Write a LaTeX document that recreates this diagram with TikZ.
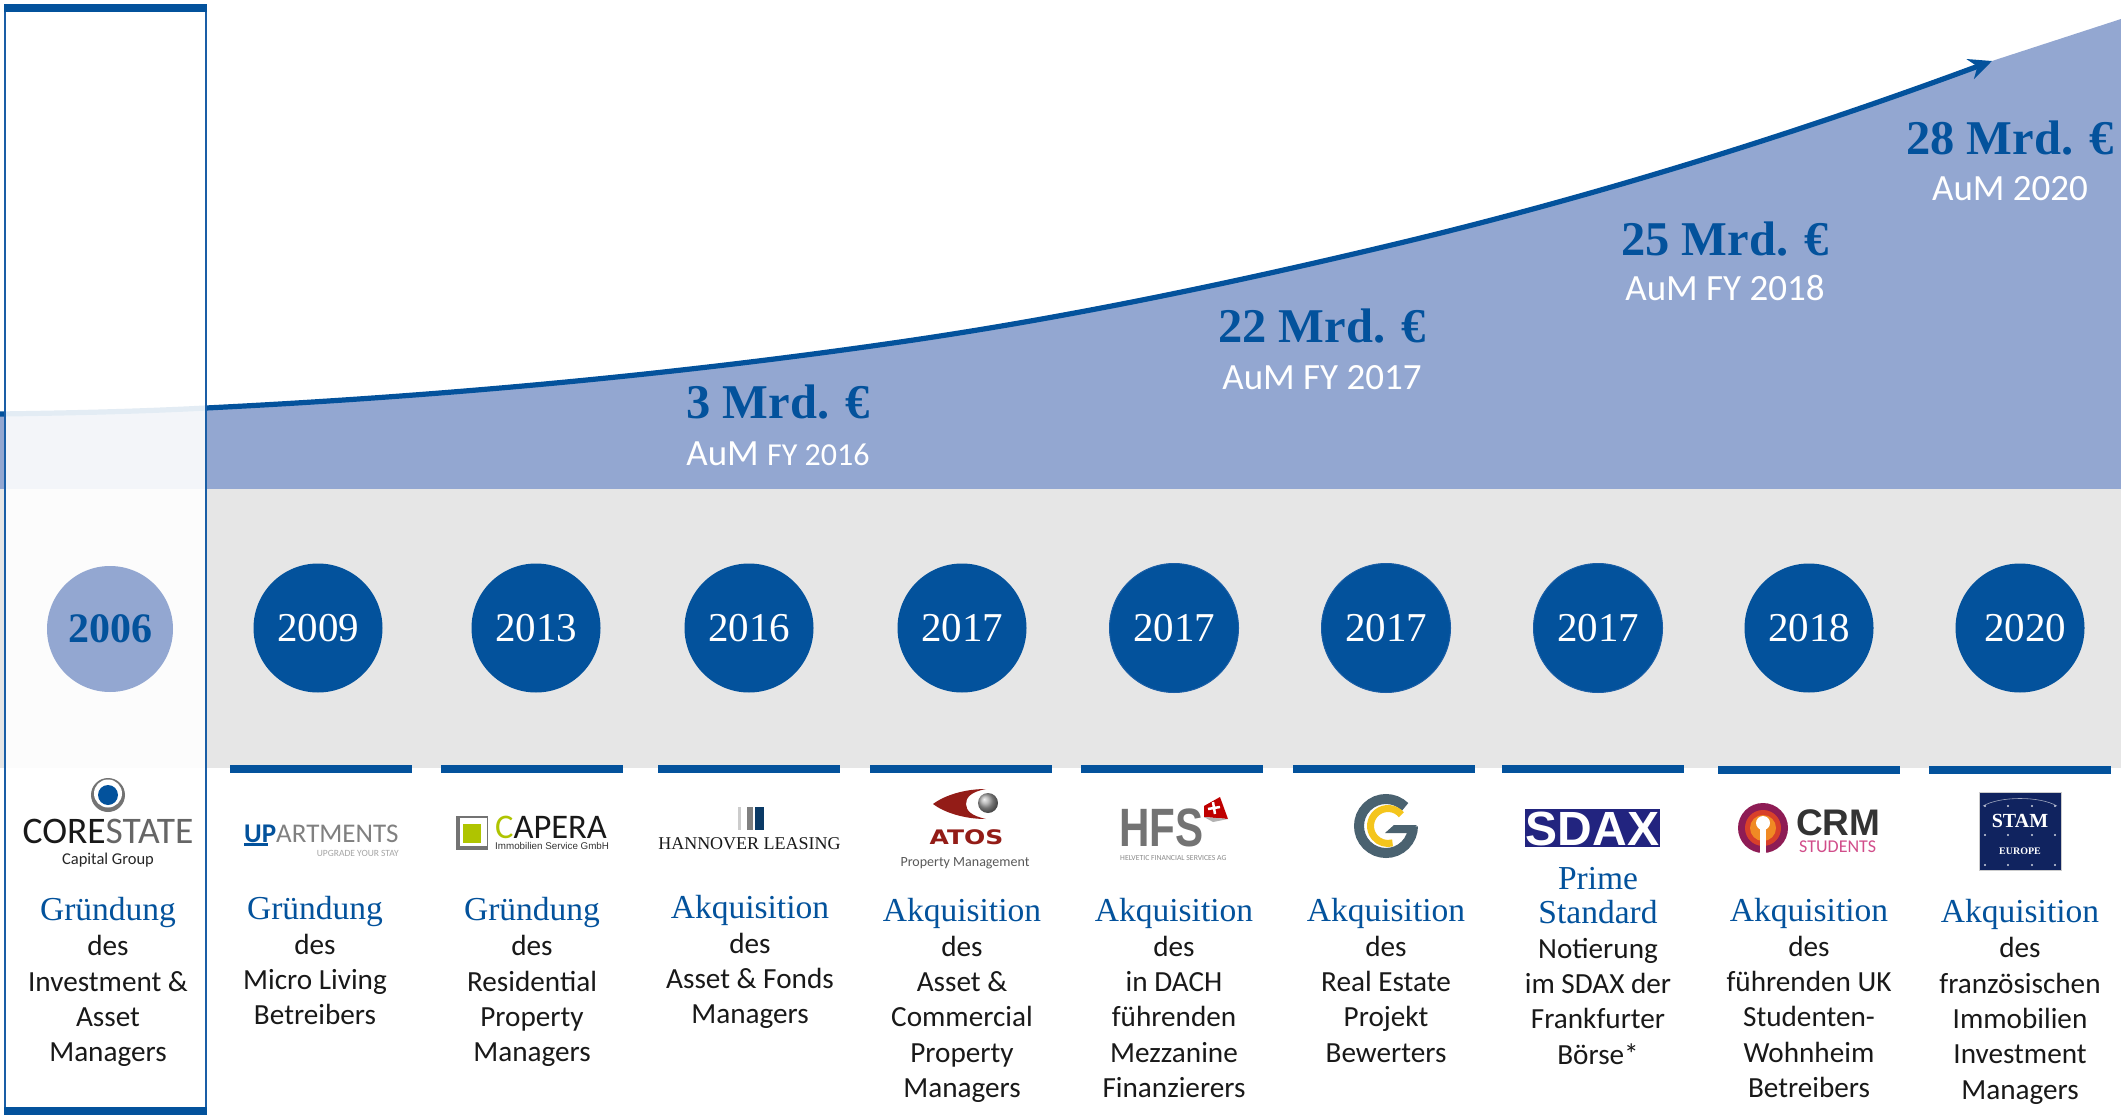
\documentclass[tikz,border=0pt]{standalone}
\usepackage{fontspec}
\usetikzlibrary{arrows.meta,calc}
\setmainfont{Carlito}
\newfontfamily\camf{Liberation Serif}
\newfontfamily\arif{Liberation Sans}
\newfontfamily\dejf{DejaVu Sans}
\newcommand\fsz[1]{\fontsize{#1}{#1}\selectfont}
\definecolor{mainblue}{HTML}{03529C}
\definecolor{areablue}{HTML}{93A7D1}
\definecolor{bandgrey}{HTML}{E6E6E6}
\definecolor{framelne}{HTML}{1A5EA6}
\definecolor{gslate}{HTML}{4A6270}
\definecolor{gyellow}{HTML}{F4C51C}
\definecolor{atosred}{HTML}{931C17}
\definecolor{limeg}{HTML}{AFC400}
\definecolor{sdaxb}{HTML}{22247F}
\definecolor{stamb}{HTML}{10235F}
\definecolor{hannavy}{HTML}{0B3A66}
\definecolor{crmo}{HTML}{8E1C55}
\definecolor{crmr}{HTML}{D8402A}
\definecolor{crmy}{HTML}{F08A24}
\definecolor{crmp}{HTML}{D14D8A}
\tikzset{
  yearc/.style={circle,fill=mainblue,draw=none,minimum size=129pt,inner sep=0,text=white,font=\camf\fsz{41}},
  yeard/.style={yearc,draw=#1,line width=1pt},
  amount/.style={anchor=base,inner sep=0,text=mainblue,font=\camf\bfseries\fsz{48.5}},
  aum/.style={anchor=base,inner sep=0,text=white,font=\fsz{37}},
  hdg/.style={anchor=base,inner sep=0,text=mainblue,font=\camf\fsz{33.5}},
  bdy/.style={anchor=base,inner sep=0,text=black!90,font=\fsz{29.2}},
  topbar/.style={fill=mainblue,draw=none},
  lg/.style={anchor=base,inner sep=0},
  lgw/.style={anchor=base west,inner sep=0},
  growth/.style={mainblue,line width=#1},
}
\newcommand\colm[5]{%
  \node[hdg] (h#1) at (#2,#3) {#4};
  \foreach \lbl [count=\i] in {#5} {\node[bdy] (b#1-\i) at (#2,#3+\i*35.3) {\lbl};}
}
\begin{document}
\begin{tikzpicture}[x=1pt,y=-1pt]
\useasboundingbox (0,0) rectangle (2121,1115);
\fill[white] (0,0) rectangle (2121,1115);
% area and band
\coordinate (tip) at (1992,61);
\fill[areablue] (0,414) .. controls (70,413) and (140,411.5) .. (206,408)
  .. controls (437,396.5) and (669,375.5) .. (900,342)
  .. controls (1067,317.8) and (1233,283) .. (1400,243)
  .. controls (1597,195.7) and (1795,134) .. (tip)
  -- (2121,19) -- (2121,489) -- (0,489) -- cycle;
\fill[bandgrey] (0,489) rectangle (2121,768);
% growth line
\draw[growth=5.2pt,-{Stealth[length=23pt,width=21pt]}] (0,414) .. controls (70,413) and (140,411.5) .. (206,408)
  .. controls (437,396.5) and (669,375.5) .. (900,342)
  .. controls (1067,317.8) and (1233,283) .. (1400,243)
  .. controls (1597,195.7) and (1795,134) .. (tip);
% bars
\foreach \a/\b/\t in {230/412/765,441/623/765,658/840/765,870/1052/765,1081/1263/765,1293/1475/765,1502/1684/765,1718/1900/766,1929/2111/766}
  \fill[topbar] (\a,\t) rectangle (\b,\t+8);
% highlight frame
\fill[white,opacity=.89] (5,8) rectangle (206,1110);
\draw[framelne,line width=2pt] (5,8) -- (5,1110);
\draw[framelne,line width=2pt] (206,8) -- (206,1110);
\fill[topbar] (4,4) rectangle (207,12);
\fill[topbar] (4,1107) rectangle (207,1115);
% amounts
\node[amount] (m3) at (778,418) {3 Mrd. €};
\node[aum] (a3) at (778,465) {AuM {\fsz{32}FY 2016}};
\node[amount] (m22) at (1322,342) {22 Mrd. €};
\node[aum] (a22) at (1322,389) {AuM FY 2017};
\node[amount] (m25) at (1725,255.5) {25 Mrd. €};
\node[aum] (a25) at (1725,301) {AuM FY 2018};
\node[amount] (m28) at (2010,154.5) {28 Mrd. €};
\node[aum] (a28) at (2010,201) {AuM 2020};
% years
\node[yearc,fill=areablue,text=mainblue,minimum size=126pt,font=\camf\bfseries\fsz{42}] (y06) at (110,629) {2006};
\node[yearc] (y09) at (318,628) {2009};
\node[yearc] (y13) at (536,628) {2013};
\node[yearc] (y16) at (749,628) {2016};
\node[yearc] (y17a) at (962,628) {2017};
\node[yeard=framelne] (y17b) at (1174,628) {2017};
\node[yeard=framelne] (y17c) at (1386,628) {2017};
\node[yeard=framelne] (y17d) at (1598,628) {2017};
\node[yearc] (y18) at (1809,628) {2018};
\node[yearc] (y20) at (2020,628) {\hspace{10pt}2020};
% columns
\colm{1}{108}{920.5}{Gründung}{des,Investment \&,Asset,Managers}
\colm{2}{315}{919}{Gründung}{des,Micro Living,Betreibers}
\colm{3}{532}{920.5}{Gründung}{des,Residential,Property,Managers}
\colm{4}{750}{918}{Akquisition}{des,Asset \& Fonds,Managers}
\colm{5}{962}{921}{Akquisition}{des,Asset \&,Commercial,Property,Managers}
\colm{6}{1174}{921}{Akquisition}{des,in DACH,führenden,Mezzanine,Finanzierers}
\colm{7}{1386}{921}{Akquisition}{des,Real Estate,Projekt,Bewerters}
\node[hdg] (h8a) at (1598,889) {Prime};
\colm{8}{1598}{923}{Standard}{Notierung,im SDAX der,Frankfurter,Börse*}
\colm{9}{1809}{921}{Akquisition}{des,führenden UK,Studenten-,Wohnheim,Betreibers}
\colm{10}{2020}{922.5}{Akquisition}{des,französischen,Immobilien,Investment,Managers}
% --- logos ---
% Corestate
\fill[black!55] (108,795) circle[radius=17pt];
\fill[white] (108,793.5) circle[radius=14pt];
\fill[mainblue] (108,795) circle[radius=10pt];
\node[lg,font=\fsz{37.5}] (lcs) at (108,843) {{\color{black!90}CORE}{\color{black!60}STATE}};
\node[lg,font=\fsz{16.5},text=black!85] (lcg) at (108,864) {Capital Group};
% Upartments
\node[lgw,font=\fsz{27}] (lup) at (244,842) {{\color{mainblue}\bfseries UP}{\color{black!50}ARTMENTS}};
\fill[mainblue] (244,843) rectangle (268,845.5);
\node[anchor=base east,inner sep=0,font=\fsz{9.5},text=black!35] (lus) at (399,856) {UPGRADE YOUR STAY};
% Capera
\fill[black!55] (456,816) rectangle (488,850);
\fill[white] (460,818) rectangle (487,846);
\fill[limeg] (463,824) rectangle (481,843);
\node[lgw,font=\fsz{34.5}] (lca) at (495,838.5) {{\color{limeg}C}{\color{black!90}APERA}};
\node[lgw,font=\arif\fsz{9.8},text=black!80] (lci) at (495,849.5) {Immobilien Service GmbH};
% Hannover Leasing
\fill[black!20] (738,807) rectangle (741,830);
\fill[black!50] (747,807) rectangle (752.5,830);
\fill[hannavy] (754.5,807) rectangle (764,830);
\node[lg,font=\camf\fsz{18},text=black!90] (lhl) at (749.5,849) {HANNOVER LEASING};
% Atos
\fill[atosred] (933,804) .. controls (945,795) and (965,789) .. (986,789) .. controls (970,792) and (966,798) .. (966,804) .. controls (966,811) and (972,816) .. (986,819) .. controls (965,819) and (945,813) .. (933,804) -- cycle;
\shade[ball color=black!35] (988,803) circle[radius=10pt];
\node[lg,xscale=1.25,transform shape,font=\dejf\bfseries\fsz{20},text=atosred] (lat) at (966.5,844) {ATOS};
\node[lg,font=\fsz{14},text=black!65] (lap) at (965,866) {Property Management};
% HFS
\node[lgw,xscale=.78,transform shape,font=\arif\bfseries\fsz{54},text=black!55] (lhf) at (1119,846) {HFS};
\fill[red!75!black] (1204,806) -- (1220,797) -- (1228,819) -- (1204,817) -- cycle;
\fill[black!30] (1204,817) -- (1228,819) -- (1213,822) -- cycle;
\draw[white,line width=2.5pt] (1213,802) -- (1215,814) (1208,809) -- (1220,807);
\node[lgw,font=\fsz{7.7},text=black!45] (lhv) at (1120,860) {HELVETIC FINANCIAL SERVICES AG};
% G logo
\coordinate (gc) at (1386,826);
\draw[gslate,line width=10pt] ([shift={(45:27pt)}]gc) arc[start angle=45,end angle=360,radius=27pt];
\fill[gslate] (1417,825) -- (1394,825) -- (1385,833) -- (1407,833) -- cycle;
\coordinate (gy) at (1388,826);
\draw[gyellow,line width=7pt] ([shift={(40:17.5pt)}]gy) arc[start angle=40,end angle=285,radius=17.5pt];
% SDAX
\fill[sdaxb] (1525,809) rectangle (1660,847);
\node[lg,font=\arif\bfseries\fsz{48},text=white] (lsd) at (1592.5,845) {SDAX};
% CRM
\coordinate (cc) at (1763,828);
\fill[crmo] (cc) circle[radius=25pt];
\fill[crmr] (cc) circle[radius=18pt];
\fill[crmy] (cc) circle[radius=13pt];
\fill[white] (1763,823) circle[radius=7pt];
\fill[white] (1760,823) rectangle (1766,853);
\node[lgw,font=\arif\bfseries\fsz{37},text=black!80] (lcr) at (1796,835) {CRM};
\node[lgw,font=\fsz{18},text=crmp] (lst) at (1799,852) {STUDENTS};
% STAM
\fill[stamb,draw=black!20,line width=.8pt] (1979,792) rectangle (2061,870);
\draw[white!60!stamb,line width=.6pt] (1983,806) .. controls (2000,796) and (2040,796) .. (2057,806);
\foreach \dy in {806,835,865} \foreach \dx in {1985,2008,2032,2055}
  \fill[white!80!stamb] (\dx,\dy) circle[radius=1.2pt];
\node[lg,font=\camf\bfseries\fsz{20},text=white] (lsm) at (2020,827) {STAM};
\node[lg,font=\camf\bfseries\fsz{10},text=white] (lse) at (2020,854) {EUROPE};
\end{tikzpicture}
\end{document}
